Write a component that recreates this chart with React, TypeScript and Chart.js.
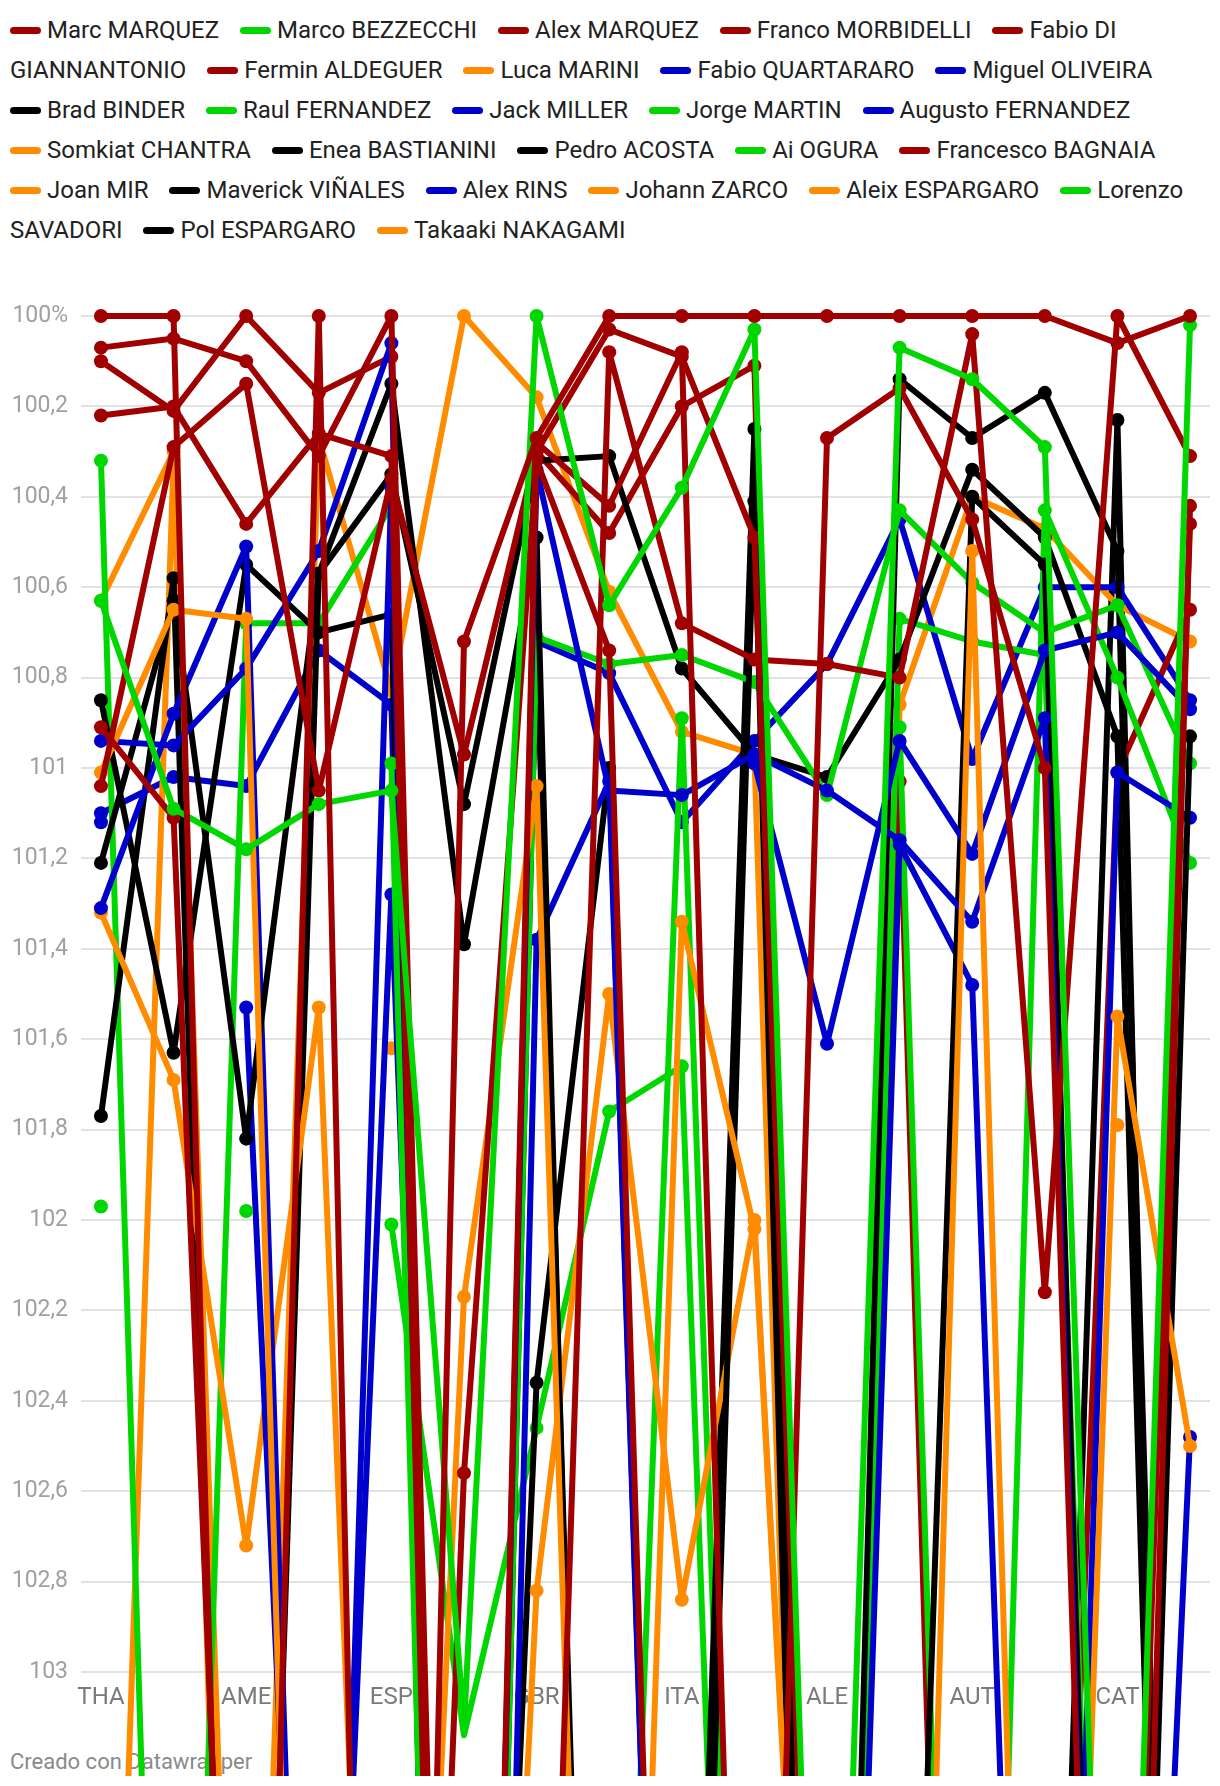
import React, { useEffect, useRef } from "react";
import { Chart, registerables } from "chart.js";

Chart.register(...registerables);

// ---- categories & ticks ----
const RACES = ["THA", "ARG", "AME", "QAT", "ESP", "FRA", "GBR", "ARA", "ITA", "NED", "ALE", "CZE", "AUT", "HUN", "CAT", "SMR"];
const X_TICK_INDEXES = [0, 2, 4, 6, 8, 10, 12, 14];
const Y_TICK_VALUES = [100, 100.2, 100.4, 100.6, 100.8, 101, 101.2, 101.4, 101.6, 101.8, 102, 102.2, 102.4, 102.6, 102.8, 103];
const Y_TICK_LABELS = ["100%", "100,2", "100,4", "100,6", "100,8", "101", "101,2", "101,4", "101,6", "101,8", "102", "102,2", "102,4", "102,6", "102,8", "103"];

// ---- colours by manufacturer ----
const RED = "#a00000";
const GREEN = "#00d700";
const ORANGE = "#ff8c00";
const BLUE = "#0000cc";
const BLACK = "#000000";

// ---- series (percent of winner's time) ----
const MARC_MARQUEZ = [100, 100, 106, 100, 107.5, 100.72, 100.27, 100, 100, 100, 100, 100, 100, 100, 100.06, 100];
const MARCO_BEZZECCHI = [100.63, 101.09, 101.18, 101.08, 101.05, 103.12, 100, 100.64, 100.38, 100.03, 105, 100.07, 100.14, 100.29, 105, 100.02];
const ALEX_MARQUEZ = [100.07, 100.05, 100.1, 100.31, 100, 106.5, 105, 100.08, 100.68, 100.76, 100.77, 100.8, 100.04, 102.16, 100, 100.31];
const FRANCO_MORBIDELLI = [100.22, 100.2, 100.46, 100.26, 100.31, 107, 100.28, 100.42, 100.08, 105.5, 100.27, 100.16, 100.45, 101.0, 106, 100.42];
const FABIO_DI_GIANNANTONIO = [101.04, 100.29, 100.15, 101.05, 100.36, 100.97, 100.3, 100.03, 100.09, 100.49, 105, 106, 105.5, 104.5, 105, 100.46];
const FERMIN_ALDEGUER = [100.91, 101.11, 105, 106, 106.5, 102.56, 100.32, 100.74, 106, 105, 106.5, 105, 105.5, 106, 105.5, 106];
const LUCA_MARINI = [101.01, 100.65, 100.67, 106, 105.5, 102.17, 101.04, 106, 101.34, 102.02, 105, 106, 100.52, 106, 101.55, 102.5];
const FABIO_QUARTARARO = [100.94, 100.95, 100.78, 100.52, 100.06, 107, 100.34, 101.05, 101.06, 100.97, 101.05, 101.16, 101.34, 100.89, 106, 102.48];
const MIGUEL_OLIVEIRA = [101.12, null, null, null, null, null, null, null, null, 100.99, 101.61, 100.94, 101.19, 100.74, 100.7, 100.87];
const BRAD_BINDER = [101.21, 100.63, 101.82, 100.57, 100.15, 101.39, 100.49, 106.5, 105.5, 100.41, 106.5, 105, 100.4, 100.55, 106, 100.93];
const RAUL_FERNANDEZ = [null, null, 101.98, null, 100.99, 107, 100.71, 100.77, 100.75, 100.81, 101.06, 100.43, 100.59, 100.7, 100.64, 100.99];
const JACK_MILLER = [101.31, 100.88, 100.51, 105.5, 100.38, 108, 101.38, 101.03, 106, 105, 106, 101.17, 101.48, 106, 101.01, 101.11];
const JORGE_MARTIN = [null, null, null, 105, null, null, null, null, null, null, null, 100.91, 106, 100.43, 100.8, 101.21];
const AUGUSTO_FERNANDEZ = [null, null, 101.53, 105, 101.28, 105.5, null, null, null, null, null, null, null, null, null, null];
const SOMKIAT_CHANTRA = [101.32, 101.69, 102.72, 101.53, 105.5, 106, 102.82, 101.5, 102.84, 102.0, 105, 106, 105, null, 101.79, null];
const ENEA_BASTIANINI = [101.77, 100.58, 105.5, 100.57, 100.35, 101.08, 100.32, 100.31, 100.78, 100.97, 101.02, 100.76, 100.34, 100.49, 100.93, 106.5];
const PEDRO_ACOSTA = [100.85, 101.63, 100.55, 100.7, 100.66, 107, 100.71, 106, 105, 100.25, 106, 100.14, 100.27, 100.17, 100.52, 106];
const AI_OGURA = [100.32, 105.5, 100.68, 100.68, 100.42, 108, 106, 105, 100.89, 105.5, 106, 100.67, 100.72, 100.75, 105.5, null];
const FRANCESCO_BAGNAIA = [100.1, 100.21, 100, 100.17, 100.09, 107.5, 100.3, 100.48, 100.2, 100.11, 106, 101.03, 106.5, 105, 101.01, 100.65];
const JOAN_MIR = [105, 100.32, 106, 105, 106, 106.5, 105, 105.5, 106, 105, 106, 107, 106, 105, 106, 105];
const MAVERICK_VINALES = [null, null, null, null, null, 106, 102.36, 101.0, 106, null, null, null, null, null, null, null];
const ALEX_RINS = [101.1, 101.02, 101.04, 100.74, 100.86, 106.5, 100.72, 100.79, 101.12, 100.94, 100.77, 100.45, 100.98, 100.6, 100.6, 100.85];
const JOHANN_ZARCO = [100.63, 100.3, 105, 100.27, 100.83, 100, 100.18, 100.61, 100.92, 100.97, 106, 100.86, 100.4, 100.47, 100.64, 100.72];
const ALEIX_ESPARGARO = [null, null, null, null, 101.62, null, null, null, null, null, null, null, null, null, null, null];
const LORENZO_SAVADORI = [101.97, null, null, null, 102.01, 103.14, 102.46, 101.76, 101.66, 106, null, null, null, null, null, null];
const POL_ESPARGARO = [null, null, null, null, null, null, null, null, null, null, null, null, null, 105, 100.23, 107];
const TAKAAKI_NAKAGAMI = [null, null, null, null, null, null, null, null, null, null, null, null, null, null, null, null];

const SERIES = [
  { name: "Marc MARQUEZ", color: RED, values: MARC_MARQUEZ },
  { name: "Marco BEZZECCHI", color: GREEN, values: MARCO_BEZZECCHI },
  { name: "Alex MARQUEZ", color: RED, values: ALEX_MARQUEZ },
  { name: "Franco MORBIDELLI", color: RED, values: FRANCO_MORBIDELLI },
  { name: "Fabio DI GIANNANTONIO", color: RED, values: FABIO_DI_GIANNANTONIO },
  { name: "Fermin ALDEGUER", color: RED, values: FERMIN_ALDEGUER },
  { name: "Luca MARINI", color: ORANGE, values: LUCA_MARINI },
  { name: "Fabio QUARTARARO", color: BLUE, values: FABIO_QUARTARARO },
  { name: "Miguel OLIVEIRA", color: BLUE, values: MIGUEL_OLIVEIRA },
  { name: "Brad BINDER", color: BLACK, values: BRAD_BINDER },
  { name: "Raul FERNANDEZ", color: GREEN, values: RAUL_FERNANDEZ },
  { name: "Jack MILLER", color: BLUE, values: JACK_MILLER },
  { name: "Jorge MARTIN", color: GREEN, values: JORGE_MARTIN },
  { name: "Augusto FERNANDEZ", color: BLUE, values: AUGUSTO_FERNANDEZ },
  { name: "Somkiat CHANTRA", color: ORANGE, values: SOMKIAT_CHANTRA },
  { name: "Enea BASTIANINI", color: BLACK, values: ENEA_BASTIANINI },
  { name: "Pedro ACOSTA", color: BLACK, values: PEDRO_ACOSTA },
  { name: "Ai OGURA", color: GREEN, values: AI_OGURA },
  { name: "Francesco BAGNAIA", color: RED, values: FRANCESCO_BAGNAIA },
  { name: "Joan MIR", color: ORANGE, values: JOAN_MIR },
  { name: "Maverick VIÑALES", color: BLACK, values: MAVERICK_VINALES },
  { name: "Alex RINS", color: BLUE, values: ALEX_RINS },
  { name: "Johann ZARCO", color: ORANGE, values: JOHANN_ZARCO },
  { name: "Aleix ESPARGARO", color: ORANGE, values: ALEIX_ESPARGARO },
  { name: "Lorenzo SAVADORI", color: GREEN, values: LORENZO_SAVADORI },
  { name: "Pol ESPARGARO", color: BLACK, values: POL_ESPARGARO },
  { name: "Takaaki NAKAGAMI", color: ORANGE, values: TAKAAKI_NAKAGAMI },
];

const FONT = "Roboto, 'Noto Sans', sans-serif";

export default function App() {
  const ref = useRef<HTMLCanvasElement | null>(null);

  useEffect(() => {
    if (!ref.current) return;
    const chart = new Chart(ref.current, {
      type: "line",
      data: {
        datasets: SERIES.map((s) => ({
          label: s.name,
          data: s.values.map((v, i) => ({ x: i, y: v })),
          borderColor: s.color,
          backgroundColor: s.color,
          pointBackgroundColor: s.color,
          pointBorderColor: s.color,
          pointBorderWidth: 0,
          pointRadius: 7,
          pointHoverRadius: 7,
          borderWidth: 6,
          tension: 0,
          spanGaps: false,
          borderJoinStyle: "round" as const,
          borderCapStyle: "round" as const,
          clip: { left: false, right: false, top: false, bottom: 104 } as any,
        })),
      },
      options: {
        responsive: false,
        animation: false,
        events: [],
        layout: { padding: { top: 316, right: 10, left: 0, bottom: 0 } },
        plugins: { legend: { display: false }, tooltip: { enabled: false } },
        scales: {
          x: {
            type: "linear",
            min: -0.275,
            max: 15.275,
            grid: { display: false },
            border: { display: false },
            afterBuildTicks: (s: any) => {
              s.ticks = X_TICK_INDEXES.map((v) => ({ value: v }));
            },
            afterFit: (s: any) => {
              s.height = 114;
            },
            ticks: {
              autoSkip: false,
              maxRotation: 0,
              padding: 4,
              color: "#7a7a7a",
              font: { family: FONT, size: 24 },
              callback: (v: any) => RACES[Math.round(Number(v))] ?? "",
            },
          },
          y: {
            type: "linear",
            reverse: true,
            min: 100,
            max: 103,
            border: { display: false },
            grid: { color: "#e2e2e2", lineWidth: 2, drawTicks: false },
            afterBuildTicks: (s: any) => {
              s.ticks = Y_TICK_VALUES.map((v) => ({ value: v }));
            },
            afterFit: (s: any) => {
              s.width = 81;
            },
            ticks: {
              padding: 13,
              color: "#a0a0a0",
              font: { family: FONT, size: 23 },
              callback: (v: any) => {
                const idx = Y_TICK_VALUES.findIndex((t) => Math.abs(t - Number(v)) < 1e-6);
                return idx >= 0 ? Y_TICK_LABELS[idx] : "";
              },
            },
          },
        },
      },
    });
    return () => chart.destroy();
  }, []);

  return (
    <div style={{ position: "absolute", left: 0, top: 0, width: 1220, height: 1786, background: "#fff", overflow: "hidden" }}>
      <div
        style={{
          position: "absolute",
          left: 10,
          top: 10,
          width: 1200,
          fontFamily: FONT,
          fontSize: 24,
          lineHeight: "40px",
          color: "#222",
        }}
      >
        {SERIES.map((s, i) => {
          const words = s.name.split(" ");
          const first = words[0];
          const rest = words.slice(1).join(" ");
          return (
            <React.Fragment key={i}>
              <span style={{ marginRight: 15 }}>
                <span style={{ whiteSpace: "nowrap" }}>
                  <span
                    style={{
                      display: "inline-block",
                      width: 31,
                      height: 7,
                      borderRadius: 4,
                      background: s.color,
                      marginRight: 6,
                      verticalAlign: "middle",
                      position: "relative",
                      top: -1,
                    }}
                  />
                  {first}
                </span>
                {rest ? " " + rest : ""}
              </span>{" "}
            </React.Fragment>
          );
        })}
      </div>
      <div
        style={{
          position: "absolute",
          left: 10,
          top: 1749,
          fontFamily: FONT,
          fontSize: 22,
          lineHeight: "26px",
          color: "#8a8a8a",
          whiteSpace: "nowrap",
        }}
      >
        Creado con Datawrapper
      </div>
      <canvas ref={ref} width={1220} height={1786} style={{ position: "absolute", left: 0, top: 0, width: 1220, height: 1786 }} />
    </div>
  );
}
